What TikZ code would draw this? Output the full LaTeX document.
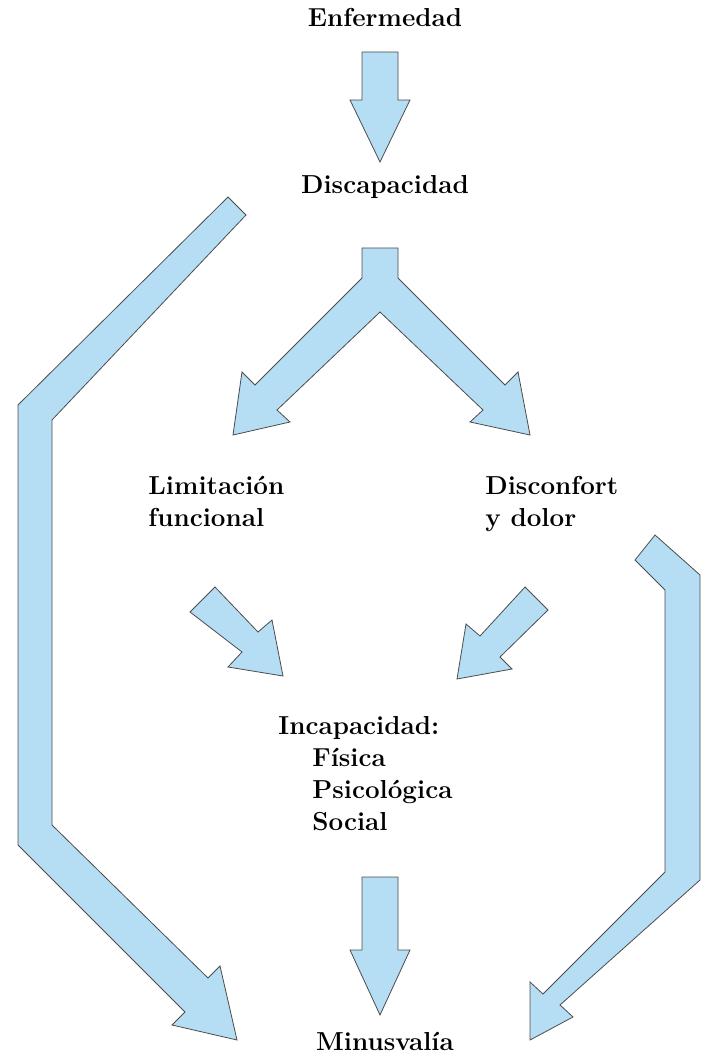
\documentclass[tikz,border=0pt]{standalone}
\usepackage{tikz}
\definecolor{flecha}{HTML}{B5DDF3}
\begin{document}
\begin{tikzpicture}
[
x=0.5pt, y=-0.5pt,
% flechas
shape arrow/.style={fill=flecha, draw=black!70, line width=0.4pt, line join=miter},
% textos
label/.style={font=\fontsize{13}{16}\selectfont\bfseries, inner sep=0, anchor=north},
block/.style={font=\fontsize{13}{16}\selectfont\bfseries, inner sep=0, anchor=north west, align=left}
]
\useasboundingbox (0,0) rectangle (700,1058);
% textos
\node [label] (enf) at (385,8) {Enfermedad};
\node [label] (dis) at (385,175) {Discapacidad};
\node [block] (lim) at (148,476) {Limitación\\funcional};
\node [block] (dcf) at (485,476) {Disconfort\\y dolor};
\node [block] (inc) at (278,716) {Incapacidad:\\\hspace*{17pt}Física\\\hspace*{17pt}Psicológica\\\hspace*{17pt}Social};
\node [label] (min) at (385,1032) {Minusvalía};

% flechas rectas
\draw [shape arrow] (362,52) -- (398,52) -- (398,100) -- (410,100) -- (380,162) -- (350,100) -- (362,100) -- cycle;
\draw [shape arrow] (362,877) -- (398,877) -- (398,950) -- (410,950) -- (380,1015) -- (350,950) -- (362,950) -- cycle;
% bifurcacion
\draw [shape arrow] (362,248) -- (398,248) -- (398,278) -- (505,385) -- (518,372) -- (530,435) -- (470,422) -- (483,410)
  -- (380,312) -- (277,410) -- (290,422) -- (233,435) -- (242,372) -- (255,385) -- (362,278) -- cycle;
% flechas diagonales
\draw [shape arrow] (215,587) -- (258,632) -- (272,620) -- (283,676) -- (228,667) -- (242,652) -- (190,612) -- cycle;
\draw [shape arrow] (525,587) -- (548,610) -- (500,657) -- (512,669) -- (457,679) -- (466,624) -- (480,636) -- cycle;
% flecha grande izquierda
\draw [shape arrow] (228,197) -- (246,215) -- (52,420) -- (52,825) -- (208,978) -- (220,966) -- (237,1040)
  -- (172,1025) -- (185,1012) -- (18,845) -- (18,405) -- cycle;
% flecha grande derecha
\draw [shape arrow] (655,535) -- (700,575) -- (700,880) -- (560,1005) -- (573,1017) -- (530,1040) -- (530,982)
  -- (543,994) -- (665,872) -- (665,590) -- (635,560) -- cycle;
\end{tikzpicture}
\end{document}
